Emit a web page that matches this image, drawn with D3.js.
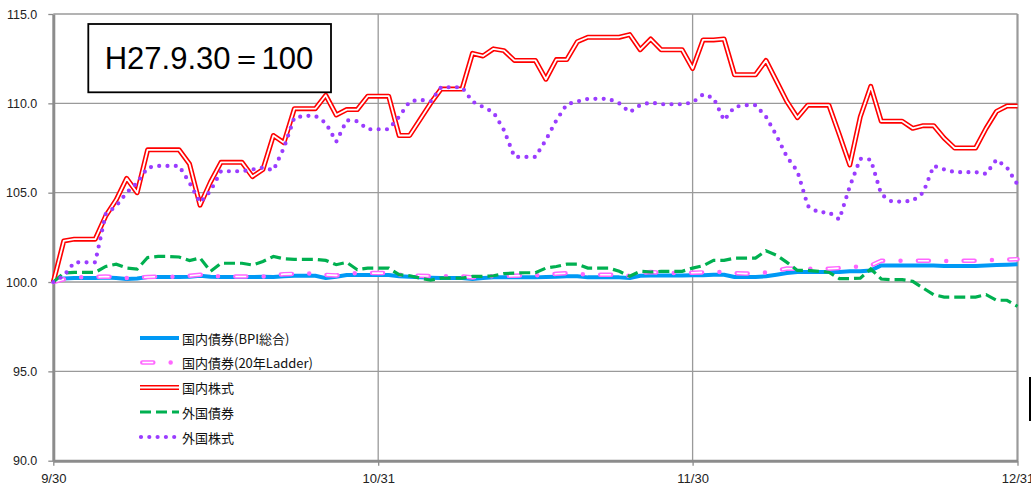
<!DOCTYPE html>
<html>
<head>
<meta charset="utf-8">
<script src="https://cdn.jsdelivr.net/npm/d3@7"></script>
<style>
body { margin: 0; background: #fff; }
svg { display: block; font-family: "Liberation Sans", Arial, sans-serif; }
</style>
</head>
<body>
<script>
// 日次データ 9/30 ～ 12/31 (H27.9.30 = 100)
const startDate = "2015-09-30"
const endDate = "2015-12-31"
const xTickDates = ["2015-09-30", "2015-10-31", "2015-11-30", "2015-12-31"]
const xTickLabels = ["9/30", "10/31", "11/30", "12/31"]
const yTicks = [90, 95, 100, 105, 110, 115]
const seriesNames = ["国内債券(BPI総合)", "国内債券(20年Ladder)", "国内株式", "外国債券", "外国株式"]
const baseLabel = "H27.9.30＝100"

const bpiTotal = [100.0,100.2,100.22,100.22,100.22,100.25,100.22,100.17,100.2,100.28,
  100.28,100.28,100.28,100.3,100.35,100.3,100.28,100.28,100.28,100.28,
  100.3,100.28,100.32,100.35,100.35,100.35,100.22,100.3,100.39,100.39,
  100.39,100.39,100.39,100.32,100.3,100.26,100.24,100.22,100.22,100.22,
  100.17,100.22,100.26,100.26,100.26,100.26,100.26,100.28,100.3,100.32,
  100.32,100.26,100.26,100.26,100.26,100.22,100.35,100.36,100.36,100.36,
  100.36,100.38,100.38,100.4,100.41,100.28,100.28,100.28,100.32,100.41,
  100.5,100.56,100.56,100.56,100.56,100.56,100.6,100.6,100.65,100.93,
  100.93,100.93,100.93,100.93,100.93,100.9,100.9,100.9,100.9,100.92,
  100.95,100.97,101.0]

const ladder20 = [100.0,100.15,100.25,100.28,100.28,100.31,100.27,100.22,100.25,100.28,
  100.3,100.3,100.3,100.35,100.41,100.35,100.31,100.31,100.31,100.31,
  100.31,100.38,100.44,100.46,100.47,100.47,100.4,100.37,100.45,100.5,
  100.5,100.5,100.5,100.41,100.38,100.35,100.33,100.32,100.32,100.32,
  100.26,100.3,100.32,100.34,100.35,100.37,100.37,100.41,100.46,100.5,
  100.46,100.41,100.41,100.41,100.41,100.35,100.5,100.56,100.52,100.5,
  100.5,100.52,100.54,100.55,100.56,100.5,100.47,100.47,100.54,100.65,
  100.75,100.73,100.74,100.74,100.74,100.78,100.82,100.87,100.92,101.19,
  101.19,101.19,101.19,101.19,101.19,101.18,101.19,101.19,101.19,101.22,
  101.25,101.26,101.28]

const domesticStock = [100.0,102.3,102.4,102.4,102.4,103.7,104.6,105.8,105.0,107.4,
  107.4,107.4,107.4,106.6,104.3,105.6,106.7,106.7,106.7,105.9,
  106.3,108.2,107.8,109.7,109.7,109.7,110.45,109.35,109.65,109.65,
  110.4,110.4,110.4,108.2,108.2,109.1,110.0,110.8,110.8,110.8,
  112.8,112.65,113.05,112.95,112.4,112.4,112.4,111.35,112.45,112.45,
  113.45,113.7,113.7,113.7,113.7,113.85,113.0,113.6,113.0,113.0,
  113.0,111.95,113.55,113.55,113.6,111.6,111.6,111.6,112.4,111.25,
  110.1,109.2,109.9,109.9,109.9,108.25,106.55,109.25,110.95,109.0,
  109.0,109.0,108.6,108.75,108.75,108.05,107.5,107.5,107.5,108.6,
  109.55,109.85,109.85]

const foreignBond = [100.0,100.5,100.54,100.54,100.54,100.87,101.0,100.78,100.72,101.37,
  101.43,101.43,101.4,101.2,101.35,100.6,101.05,101.05,101.05,100.95,
  101.15,101.43,101.3,101.27,101.27,101.27,101.21,100.97,101.1,100.69,
  100.78,100.78,100.78,100.41,100.35,100.22,100.1,100.22,100.22,100.22,
  100.32,100.32,100.35,100.47,100.5,100.52,100.52,100.78,100.87,101.0,
  101.0,100.78,100.78,100.78,100.6,100.32,100.6,100.56,100.6,100.6,
  100.6,100.78,100.91,101.21,101.21,101.34,101.34,101.34,101.75,101.5,
  101.1,100.65,100.65,100.6,100.55,100.19,100.19,100.22,100.73,100.17,
  100.13,100.13,100.04,99.66,99.29,99.16,99.16,99.16,99.16,99.29,
  98.98,98.98,98.64]

const foreignStock = [100.0,100.35,101.1,101.1,101.1,103.8,104.25,105.0,105.55,106.4,
  106.5,106.5,106.5,105.55,104.45,105.1,106.2,106.2,106.2,106.3,
  106.4,106.25,107.5,109.2,109.3,109.3,108.9,107.85,109.05,109.0,
  108.55,108.55,108.55,109.25,110.1,110.2,110.1,110.9,110.9,110.9,
  110.1,109.8,109.5,108.5,107.0,107.0,107.0,107.95,109.05,109.95,
  110.1,110.25,110.25,110.25,110.0,109.5,109.9,110.05,109.95,109.95,
  109.95,110.05,110.5,110.3,109.05,109.8,109.9,109.9,109.25,108.2,
  107.0,106.2,104.25,103.9,103.9,103.5,105.35,106.9,106.85,104.9,
  104.5,104.5,104.55,105.0,106.5,106.3,106.15,106.15,106.15,106.05,
  106.85,106.4,105.45]

const width = 1031
const height = 485
const margin = {top: 14, right: 13.5, bottom: 24.3, left: 53.3}

const parseDate = d3.timeParse("%Y-%m-%d")
const days = d3.timeDay.range(parseDate(startDate), d3.timeDay.offset(parseDate(endDate), 1))

const x = d3.scaleTime()
  .domain([parseDate(startDate), parseDate(endDate)])
  .range([margin.left, width - margin.right])
const y = d3.scaleLinear()
  .domain([90, 115])
  .range([height - margin.bottom, margin.top])

const svg = d3.select("body").append("svg")
  .attr("width", width)
  .attr("height", height)

// 目盛線
svg.append("g").selectAll("line")
  .data(yTicks.slice(1))
  .enter().append("line")
  .attr("x1", x.range()[0]).attr("x2", x.range()[1])
  .attr("y1", d => y(d)).attr("y2", d => y(d))
  .attr("stroke", "#9a9a9a").attr("stroke-width", 1.3)

svg.append("g").selectAll("line")
  .data(xTickDates.slice(1))
  .enter().append("line")
  .attr("x1", d => x(parseDate(d))).attr("x2", d => x(parseDate(d)))
  .attr("y1", y(90)).attr("y2", y(115))
  .attr("stroke", "#9a9a9a")
  .attr("stroke-width", (d, i) => i === xTickDates.length - 2 ? 2.2 : 1.3)

// 軸
const yAxis = d3.axisLeft(y)
  .tickValues(yTicks)
  .tickFormat(d3.format(".1f"))
  .tickSize(5)
  .tickSizeOuter(0)
  .tickPadding(11)
const xAxis = d3.axisBottom(x)
  .tickValues(xTickDates.map(parseDate))
  .tickFormat((d, i) => xTickLabels[i])
  .tickSize(5)
  .tickSizeOuter(0)
  .tickPadding(8)

const gy = svg.append("g")
  .attr("transform", `translate(${margin.left},0)`)
  .call(yAxis)
const gx = svg.append("g")
  .attr("transform", `translate(0,${y(90)})`)
  .call(xAxis)

for (const g of [gx, gy]) {
  g.select(".domain").attr("stroke", "#8c8c8c").attr("stroke-width", 3)
  g.selectAll(".tick line").attr("stroke", "#8c8c8c").attr("stroke-width", 1.3)
  g.selectAll(".tick text").attr("fill", "#222").attr("font-size", 12.5)
}
gx.selectAll(".tick text").attr("font-size", 13)

// 系列
const line = d3.line()
  .x((d, i) => x(days[i]))
  .y(d => y(d))

function drawSeries(g, path, kind) {
  if (kind === "bpi") {
    g.append("path").attr("d", path).attr("fill", "none")
      .attr("stroke", "#0099f5").attr("stroke-width", 4).attr("stroke-linejoin", "round")
  } else if (kind === "ladder") {
    g.append("path").attr("d", path).attr("fill", "none")
      .attr("stroke", "#ff66ff").attr("stroke-width", 4.5)
      .attr("stroke-linecap", "round").attr("stroke-dasharray", "11,17.35,0,17.35")
    g.append("path").attr("d", path).attr("fill", "none")
      .attr("stroke", "#fff").attr("stroke-width", 1.6)
      .attr("stroke-dasharray", "11,34.7")
  } else if (kind === "dstock") {
    g.append("path").attr("d", path).attr("fill", "none")
      .attr("stroke", "#ff0000").attr("stroke-width", 5).attr("stroke-linejoin", "round")
    g.append("path").attr("d", path).attr("fill", "none")
      .attr("stroke", "#fff").attr("stroke-width", 1.8).attr("stroke-linejoin", "round")
  } else if (kind === "fbond") {
    g.append("path").attr("d", path).attr("fill", "none")
      .attr("stroke", "#00b050").attr("stroke-width", 3.2)
      .attr("stroke-dasharray", "11,5")
  } else {
    g.append("path").attr("d", path).attr("fill", "none")
      .attr("stroke", "#9a3cff").attr("stroke-width", 4.2)
      .attr("stroke-linecap", "round").attr("stroke-dasharray", "0,8.3")
  }
}

const seriesData = [bpiTotal, ladder20, domesticStock, foreignBond, foreignStock]
const kinds = ["bpi", "ladder", "dstock", "fbond", "fstock"]

const plot = svg.append("g")
seriesData.forEach((s, i) => drawSeries(plot, line(s), kinds[i]))

// 凡例
const legendY = [338, 362.5, 387.5, 412, 437]
const legend = svg.append("g")
seriesNames.forEach((name, i) => {
  const g = legend.append("g")
  const sx = kinds[i] === "ladder" ? 142.3 : (kinds[i] === "fstock" ? 141 : 140)
  drawSeries(g, `M${sx},${legendY[i]}H179`, kinds[i])
  g.append("text")
    .attr("x", 182).attr("y", legendY[i])
    .attr("dominant-baseline", "central")
    .attr("font-family", "'Noto Sans CJK JP', sans-serif")
    .attr("font-size", 13)
    .attr("fill", "#111")
    .text(name)
})

// 基準日ボックス
svg.append("rect")
  .attr("x", 88.3).attr("y", 24).attr("width", 242.7).attr("height", 68.3)
  .attr("fill", "#fff").attr("stroke", "#000").attr("stroke-width", 1.8)
svg.append("text")
  .attr("x", 209).attr("y", 58.5)
  .attr("text-anchor", "middle")
  .attr("dominant-baseline", "central")
  .attr("font-size", 31)
  .attr("fill", "#000")
  .text(baseLabel)

// 右端に切れている別の枠
svg.append("rect")
  .attr("x", 1030).attr("y", 378).attr("width", 30).attr("height", 42)
  .attr("fill", "none").attr("stroke", "#000").attr("stroke-width", 2)
</script>
</body>
</html>
